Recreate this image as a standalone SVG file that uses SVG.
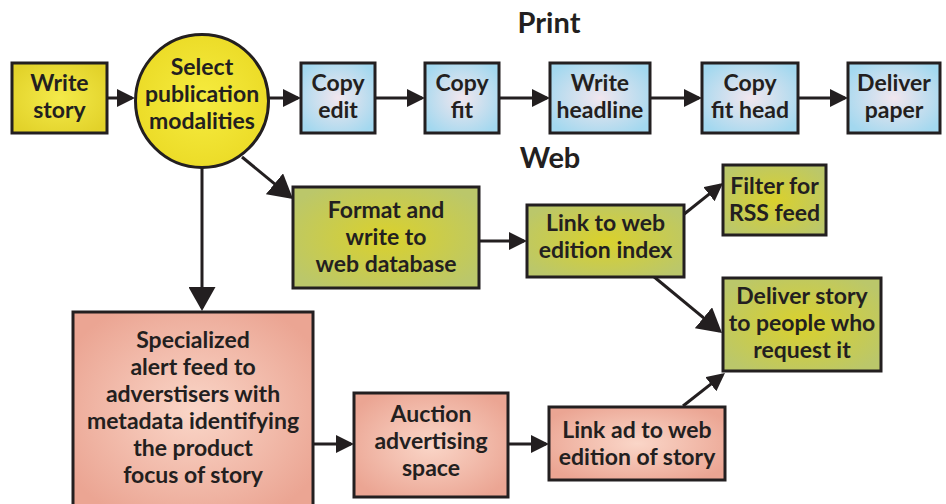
<svg xmlns="http://www.w3.org/2000/svg" width="946" height="504" viewBox="0 0 946 504">
<defs>
<radialGradient id="gBlue" cx="0.5" cy="0.5" r="0.6">
<stop offset="0" stop-color="#f1e6ee"/>
<stop offset="1" stop-color="#a3d8ef"/>
</radialGradient>
<radialGradient id="gYellow" cx="0.5" cy="0.5" r="0.6">
<stop offset="0" stop-color="#f4ea4a"/>
<stop offset="1" stop-color="#e2d22a"/>
</radialGradient>
<radialGradient id="gCircle" cx="0.5" cy="0.5" r="0.5">
<stop offset="0" stop-color="#f6ec40"/>
<stop offset="1" stop-color="#ecdc28"/>
</radialGradient>
<radialGradient id="gGreen" cx="0.5" cy="0.5" r="0.6">
<stop offset="0" stop-color="#dad12c"/>
<stop offset="1" stop-color="#bbc76a"/>
</radialGradient>
<radialGradient id="gPink" cx="0.5" cy="0.5" r="0.6">
<stop offset="0" stop-color="#fad6c8"/>
<stop offset="1" stop-color="#eba593"/>
</radialGradient>
<marker id="ah" viewBox="0 0 18 18" refX="15" refY="9" markerWidth="18" markerHeight="18" markerUnits="userSpaceOnUse" orient="auto">
<path d="M0,0 L18,9 L0,18 Z" fill="#231f20"/>
</marker>
<marker id="ahL" viewBox="0 0 24 27" refX="21" refY="13.5" markerWidth="24" markerHeight="27" markerUnits="userSpaceOnUse" orient="auto">
<path d="M0,0 L24,13.5 L0,27 Z" fill="#231f20"/>
</marker>
</defs>
<style>
.box{stroke:#231f20;stroke-width:3}
.t{font-family:Lato,"Open Sans","Liberation Sans",sans-serif;font-weight:bold;font-size:23px;fill:#231f20;text-anchor:middle}
.title{font-size:29px}
.c{stroke:#231f20;stroke-width:3;fill:none}
.s{marker-end:url(#ah)}
.l{marker-end:url(#ahL)}
</style>

<text class="t title" x="549" y="33">Print</text>
<text class="t title" x="550" y="168">Web</text>

<g id="connectors">
<line class="c s" x1="107" y1="98" x2="132" y2="98"/>
<line class="c s" x1="269" y1="98" x2="298" y2="98"/>
<line class="c s" x1="375" y1="98" x2="422" y2="98"/>
<line class="c s" x1="499" y1="98" x2="547" y2="98"/>
<line class="c s" x1="650" y1="98" x2="699" y2="98"/>
<line class="c s" x1="798" y1="98" x2="845" y2="98"/>
<line class="c l" x1="242" y1="157" x2="290.7" y2="197.1"/>
<line class="c l" x1="202" y1="167" x2="202" y2="308"/>
<line class="c s" x1="479" y1="241" x2="524" y2="241"/>
<line class="c s" x1="683" y1="215" x2="720.7" y2="184.9"/>
<line class="c l" x1="653" y1="276" x2="719.7" y2="331.1"/>
<line class="c s" x1="313" y1="444" x2="351" y2="444"/>
<line class="c s" x1="508" y1="444" x2="546" y2="444"/>
<line class="c s" x1="683" y1="406" x2="722.6" y2="374.9"/>
</g>

<g id="write-story">
<rect class="box" x="12" y="63" width="95" height="70" fill="url(#gYellow)"/>
<text class="t" x="59.5" y="91">Write</text>
<text class="t" x="59.5" y="118">story</text>
</g>

<g id="select">
<circle class="box" cx="202" cy="101" r="66.5" fill="url(#gCircle)"/>
<text class="t" x="202" y="75">Select</text>
<text class="t" x="202" y="102">publication</text>
<text class="t" x="202" y="129">modalities</text>
</g>

<g id="copy-edit">
<rect class="box" x="301" y="63" width="74" height="70" fill="url(#gBlue)"/>
<text class="t" x="338" y="91">Copy</text>
<text class="t" x="338" y="118">edit</text>
</g>

<g id="copy-fit">
<rect class="box" x="425" y="63" width="74" height="70" fill="url(#gBlue)"/>
<text class="t" x="462" y="91">Copy</text>
<text class="t" x="462" y="118">fit</text>
</g>

<g id="write-headline">
<rect class="box" x="550" y="63" width="100" height="70" fill="url(#gBlue)"/>
<text class="t" x="600" y="91">Write</text>
<text class="t" x="600" y="118">headline</text>
</g>

<g id="copy-fit-head">
<rect class="box" x="702" y="63" width="96" height="70" fill="url(#gBlue)"/>
<text class="t" x="750" y="91">Copy</text>
<text class="t" x="750" y="118">fit head</text>
</g>

<g id="deliver-paper">
<rect class="box" x="848" y="63" width="92" height="70" fill="url(#gBlue)"/>
<text class="t" x="894" y="91">Deliver</text>
<text class="t" x="894" y="118">paper</text>
</g>

<g id="format">
<rect class="box" x="293" y="187" width="186" height="101" fill="url(#gGreen)"/>
<text class="t" x="386" y="218">Format and</text>
<text class="t" x="386" y="245">write to</text>
<text class="t" x="386" y="272">web database</text>
</g>

<g id="link-web">
<rect class="box" x="527" y="205" width="157" height="72" fill="url(#gGreen)"/>
<text class="t" x="605.5" y="231">Link to web</text>
<text class="t" x="605.5" y="258">edition index</text>
</g>

<g id="filter-rss">
<rect class="box" x="723" y="165" width="103" height="70" fill="url(#gGreen)"/>
<text class="t" x="774.5" y="194">Filter for</text>
<text class="t" x="774.5" y="221">RSS feed</text>
</g>

<g id="deliver-story">
<rect class="box" x="723" y="278" width="158" height="93" fill="url(#gGreen)"/>
<text class="t" x="802" y="304">Deliver story</text>
<text class="t" x="802" y="331">to people who</text>
<text class="t" x="802" y="358">request it</text>
</g>

<g id="specialized">
<rect class="box" x="73" y="312" width="240" height="200" fill="url(#gPink)"/>
<text class="t" x="193" y="348">Specialized</text>
<text class="t" x="193" y="375">alert feed to</text>
<text class="t" x="193" y="402">adverstisers with</text>
<text class="t" x="193" y="429">metadata identifying</text>
<text class="t" x="193" y="456">the product</text>
<text class="t" x="193" y="483">focus of story</text>
</g>

<g id="auction">
<rect class="box" x="354" y="393" width="154" height="104" fill="url(#gPink)"/>
<text class="t" x="431" y="422">Auction</text>
<text class="t" x="431" y="449">advertising</text>
<text class="t" x="431" y="476">space</text>
</g>

<g id="link-ad">
<rect class="box" x="549" y="407" width="176" height="73" fill="url(#gPink)"/>
<text class="t" x="637" y="438">Link ad to web</text>
<text class="t" x="637" y="465">edition of story</text>
</g>
</svg>
